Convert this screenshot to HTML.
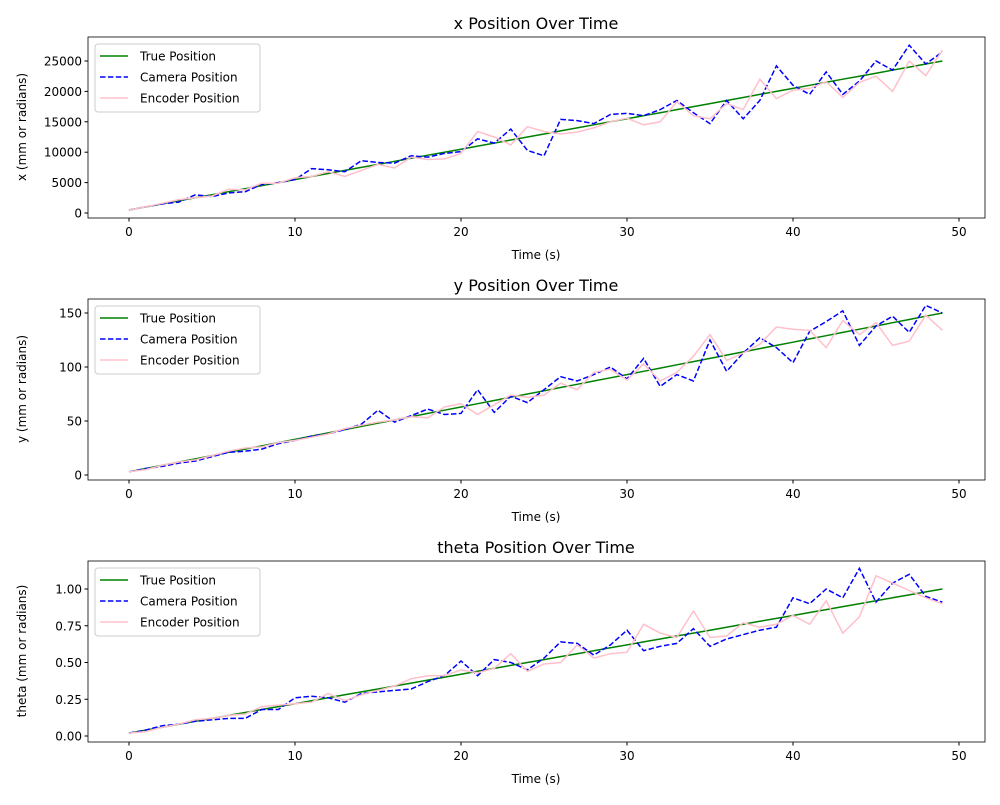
<!DOCTYPE html>
<html><head><meta charset="utf-8"><style>body{margin:0;background:#fff}svg{font-family:"DejaVu Sans","Liberation Sans",sans-serif}</style></head>
<body>
<svg id="c" width="1000" height="800"></svg>
<script>
const times=[];for(let i=0;i<50;i++)times.push(i);
const xTrue=times.map(t=>500*(t+1));
const xCam=[0.5,1.0,1.5,1.8,3.0,2.7,3.3,3.5,4.7,5.0,5.5,7.3,7.1,6.8,8.6,8.3,8.2,9.4,9.2,9.8,10.1,12.2,11.5,13.8,10.3,9.4,15.4,15.2,14.7,16.2,16.4,16.0,17.0,18.5,16.5,14.7,18.5,15.5,18.5,24.2,21.0,19.5,23.2,19.5,21.7,25.0,23.5,27.6,24.5,26.5].map(v=>v*1000);
const xEnc=[0.5,1.0,1.6,2.2,2.5,2.8,3.9,3.8,4.9,4.9,5.8,6.0,6.8,6.0,7.0,8.0,7.4,9.2,8.8,8.9,9.8,13.4,12.5,11.2,14.2,13.4,13.0,13.3,14.0,15.0,15.6,14.5,15.0,18.3,16.0,15.5,18.0,17.0,22.0,18.8,20.2,20.5,21.6,19.0,21.5,22.5,20.0,25.0,22.6,26.8].map(v=>v*1000);
const yTrue=times.map(t=>3*(t+1));
const yCam=[3,6,8,11,13,17,21,22,24,29,32,36,38,42,47,60,49,55,61,56,57,79,58,73,67,79,91,87,93,100,89,108,82,93,87,125,96,113,127,118,104,133,142,152,120,138,147,132,157,150];
const yEnc=[3,5,9,12,14,18,22,25,26,30,32,35,38,43,46,49,51,54,53,63,66,56,65,74,72,74,85,79,95,98,88,103,87,95,110,130,106,113,121,137,135,134,118,143,130,141,120,124,148,134];
const thTrue=times.map(t=>0.02*(t+1));
const thCam=[0.02,0.04,0.07,0.08,0.10,0.11,0.12,0.12,0.18,0.18,0.26,0.27,0.26,0.23,0.29,0.30,0.31,0.32,0.37,0.41,0.51,0.41,0.52,0.50,0.45,0.53,0.64,0.63,0.55,0.62,0.72,0.58,0.61,0.63,0.73,0.61,0.66,0.69,0.72,0.74,0.94,0.90,1.00,0.94,1.14,0.91,1.04,1.10,0.95,0.91];
const thEnc=[0.02,0.03,0.06,0.08,0.11,0.12,0.14,0.15,0.20,0.21,0.22,0.23,0.29,0.24,0.28,0.31,0.34,0.39,0.41,0.41,0.45,0.43,0.46,0.56,0.44,0.49,0.50,0.62,0.53,0.56,0.57,0.76,0.70,0.67,0.85,0.67,0.68,0.77,0.74,0.76,0.82,0.76,0.92,0.70,0.81,1.09,1.04,0.99,0.94,0.90];
const xTicks=[0,10,20,30,40,50];
const xPosTicks=[0,5000,10000,15000,20000,25000];
const yPosTicks=[0,50,100,150];
const thTicks=[0,0.25,0.5,0.75,1.0];

const svg=document.getElementById('c');const NS='http://www.w3.org/2000/svg';
function mk(tag,at,parent,txt){const e=document.createElementNS(NS,tag);for(const k in at)e.setAttribute(k,at[k]);if(txt!==undefined)e.textContent=txt;(parent||svg).appendChild(e);return e;}
const L=88,R=985;
const sx=t=>129+t*16.6;
function panel(name,top,y0px,perUnit,ticks,fmt,tr,cam,enc){
  const g=mk('g',{});
  
  
  const B=top+181;
  const sy=v=>y0px-v*perUnit;
  const line=(arr,st,nm)=>{const p=mk('polyline',Object.assign({points:arr.map((v,i)=>sx(times[i]).toFixed(1)+','+sy(v).toFixed(1)).join(' '),fill:'none'},st),g);
    
    };
  line(tr,{stroke:'#008000','stroke-width':1.5},'true-position-line');
  line(cam,{stroke:'#0000ff','stroke-width':1.5,'stroke-dasharray':'5.5,2.4'},'camera-position-line');
  line(enc,{stroke:'#ffc0cb','stroke-width':1.5},'encoder-position-line');
  mk('rect',{x:L,y:top,width:R-L,height:181,fill:'none',stroke:'#000','stroke-width':0.8},g);
  xTicks.forEach(t=>{mk('line',{x1:sx(t),x2:sx(t),y1:B,y2:B+3.5,stroke:'#000'},g);
    const tx=mk('text',{x:sx(t),y:B+18,'font-size':12,'text-anchor':'middle'},g,t);
    
    });
  ticks.forEach(v=>{mk('line',{x1:L-3.5,x2:L,y1:sy(v),y2:sy(v),stroke:'#000'},g);
    const tx=mk('text',{x:L-6,y:sy(v)+4.5,'font-size':12,'text-anchor':'end'},g,fmt(v));
    
    });
  const ti=mk('text',{x:536,y:top-8,'font-size':16,'text-anchor':'middle'},g,name+' Position Over Time');
  
  
  const xl=mk('text',{x:536,y:B+41,'font-size':12,'text-anchor':'middle'},g,'Time (s)');
  
  
  const yl=mk('text',{x:0,y:0,'font-size':12,'text-anchor':'middle',transform:`translate(26,${top+90}) rotate(-90)`},g,name+' (mm or radians)');
  
  
  const lg=mk('g',{},g);
  
  
  mk('rect',{x:95,y:top+7,width:165,height:68,rx:3,fill:'#fff','fill-opacity':0.8,stroke:'#ccc'},lg);
  [['True Position','#008000',''],['Camera Position','#0000ff','5.5,2.4'],['Encoder Position','#ffc0cb','']].forEach((e,i)=>{
    const yy=top+19+i*21;
    mk('line',{x1:100,x2:128,y1:yy,y2:yy,stroke:e[1],'stroke-width':1.5,'stroke-dasharray':e[2]||'none'},lg);
    const tx=mk('text',{x:140,y:yy+4.5,'font-size':12},lg,e[0]);
    
    
  });
}
panel('x',37,213,152/25000,xPosTicks,v=>String(v),xTrue,xCam,xEnc);
panel('y',299,475,162/150,yPosTicks,v=>String(v),yTrue,yCam,yEnc);
panel('theta',561,736,147,thTicks,v=>v.toFixed(2),thTrue,thCam,thEnc);
</script>
</body></html>
